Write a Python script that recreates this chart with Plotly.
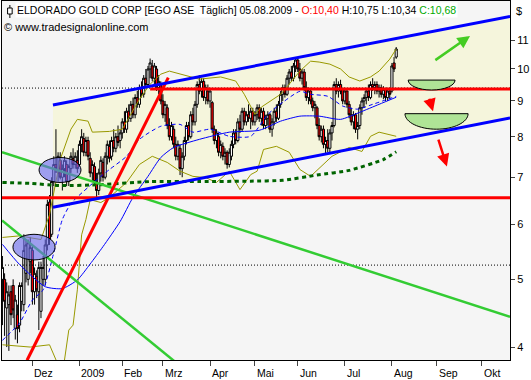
import math
import plotly.graph_objects as go

# ---------------- data (trading-day index: 0 = 1 Dec 2008) ----------------
day_index = list(range(-14, 171))

opens = [
    5.0, 5.0, 4.55, 4.6, 4.8, 4.9, 4.25, 4.45, 4.3, 4.65, 4.6, 5.1, 5.0, 5.3,  # Nov
    5.5, 4.8, 5.05, 4.8, 4.5, 5.0, 5.0, 5.6, 6.45, 5.8, 6.9, 7.3, 7.1, 7.4, 7.0, 7.2, 7.3, 6.9, 7.2, 7.45, 7.3, 7.4,  # Dec
    7.3, 7.8, 7.95, 7.6, 7.9, 7.45, 7.1, 7.25, 6.9, 6.7, 7.1, 7.35, 7.0, 7.5, 7.75, 7.5, 7.9, 7.7, 8.0, 7.9,  # Jan
    8.1, 8.4, 8.2, 8.7, 8.5, 8.9, 8.6, 9.1, 8.9, 9.4, 9.2, 9.7, 9.5, 10.0, 10.1, 9.7, 10.0, 9.4, 9.5,  # Feb
    9.0, 8.6, 8.8, 8.3, 8.0, 8.2, 7.8, 7.5, 7.7, 7.2, 7.5, 7.9, 8.3, 8.0, 8.6, 8.4, 8.9, 9.5, 9.3, 9.6, 9.1, 9.3,  # Mar
    9.0, 8.95, 8.2, 7.9, 8.0, 7.6, 7.75, 7.5, 7.6, 7.3, 7.5, 7.8, 8.1, 7.9, 8.4, 8.2, 8.7, 8.4, 8.6, 8.5, 8.7,  # Apr
    8.4, 8.6, 8.8, 8.5, 8.7, 8.3, 8.5, 8.6, 8.2, 8.4, 8.7, 8.5, 8.9, 9.2, 9.4, 9.2, 9.7, 9.9, 9.7, 10.1,  # May
    10.3, 10.0, 9.7, 9.9, 9.4, 9.1, 9.3, 9.0, 8.8, 8.8, 8.3, 8.0, 8.2, 7.8, 7.9, 7.7, 8.1, 8.3, 9.5, 9.3, 9.5, 9.35,  # Jun
    9.0, 9.3, 8.9, 8.6, 8.4, 8.6, 8.2, 8.3, 8.8, 9.0, 9.1, 9.3, 9.1, 9.5, 9.4, 9.5, 9.3, 9.4, 9.2, 9.35, 9.1, 9.3,  # Jul
    9.3, 10.2, 10.40,  # Aug
]
highs = [
    5.4, 5.1, 4.95, 4.9, 4.9, 5.0, 4.75, 4.6, 4.95, 4.95, 5.8, 5.7, 5.7, 5.75,
    5.6, 5.2, 5.15, 5.3, 5.3, 5.4, 5.7, 6.5, 6.6, 7.0, 7.5, 8.2, 7.6, 7.6, 7.3, 7.5, 7.4, 7.3, 7.6, 7.7, 7.6, 7.65,
    7.9, 8.2, 8.1, 8.0, 8.0, 7.6, 7.4, 7.35, 7.1, 7.2, 7.5, 7.45, 7.6, 7.9, 7.9, 8.0, 8.2, 8.1, 8.3, 8.2,
    8.5, 8.7, 8.8, 8.9, 9.0, 9.1, 9.2, 9.3, 9.5, 9.6, 9.8, 10.0, 10.1, 10.35, 10.3, 10.2, 10.1, 9.8, 9.6,
    9.2, 9.0, 8.9, 8.5, 8.4, 8.3, 8.0, 7.9, 7.8, 7.6, 8.0, 8.4, 8.4, 8.7, 8.8, 9.0, 9.6, 9.8, 9.7, 9.7, 9.5, 9.5,
    9.4, 9.0, 8.3, 8.2, 8.1, 7.9, 7.85, 7.7, 7.65, 7.7, 7.9, 8.2, 8.2, 8.5, 8.6, 8.8, 8.8, 8.7, 8.9, 8.8, 8.8,
    8.7, 8.9, 8.9, 8.8, 8.8, 8.6, 8.7, 8.65, 8.5, 8.8, 8.9, 9.0, 9.3, 9.5, 9.5, 9.8, 10.0, 10.1, 10.2, 10.36,
    10.4, 10.2, 10.0, 10.0, 9.6, 9.4, 9.4, 9.1, 9.0, 8.85, 8.5, 8.3, 8.3, 8.0, 8.2, 8.2, 8.4, 9.6, 9.7, 9.6, 9.65, 9.4,
    9.4, 9.35, 9.0, 8.8, 8.7, 8.65, 8.4, 8.9, 9.1, 9.2, 9.4, 9.5, 9.6, 9.7, 9.6, 9.6, 9.5, 9.5, 9.45, 9.4, 9.4, 9.4,
    10.2, 10.4, 10.75,
]
lows = [
    4.3, 4.15, 4.0, 3.95, 4.3, 4.4, 4.1, 4.05, 4.2, 4.5, 4.5, 4.95, 4.9, 5.1,
    4.6, 4.6, 4.7, 4.23, 4.4, 4.9, 4.9, 5.5, 5.6, 5.75, 6.8, 7.1, 6.9, 6.95, 6.7, 7.0, 6.8, 6.8, 7.1, 7.2, 7.2, 7.1,
    7.25, 7.6, 7.5, 7.5, 7.4, 7.0, 6.9, 6.8, 6.55, 6.6, 6.9, 6.9, 6.95, 7.3, 7.35, 7.4, 7.6, 7.6, 7.75, 7.7,
    7.95, 8.1, 8.1, 8.4, 8.4, 8.5, 8.5, 8.8, 8.8, 9.1, 9.1, 9.4, 9.4, 9.7, 9.6, 9.5, 9.3, 9.2, 8.9,
    8.5, 8.4, 8.2, 7.9, 7.9, 7.7, 7.4, 7.4, 7.05, 7.0, 7.4, 7.8, 7.9, 7.95, 8.3, 8.3, 8.8, 9.2, 9.1, 9.0, 8.9, 8.9,
    8.8, 8.1, 7.8, 7.7, 7.5, 7.45, 7.4, 7.3, 7.2, 7.23, 7.4, 7.7, 7.8, 7.85, 8.1, 8.15, 8.3, 8.3, 8.4, 8.2, 8.3,
    8.3, 8.45, 8.4, 8.3, 8.2, 8.2, 8.3, 8.1, 8.0, 8.3, 8.4, 8.45, 8.8, 9.0, 9.1, 9.15, 9.5, 9.6, 9.6, 9.9,
    9.9, 9.6, 9.5, 9.3, 9.0, 8.9, 8.9, 8.7, 8.5, 8.2, 7.9, 7.85, 7.7, 7.55, 7.6, 7.6, 7.9, 8.25, 9.2, 9.1, 9.2, 8.9,
    8.9, 8.8, 8.5, 8.3, 8.2, 8.1, 7.93, 8.2, 8.6, 8.8, 8.9, 9.0, 9.05, 9.3, 9.2, 9.2, 9.1, 9.1, 9.05, 9.0, 9.0, 9.05,
    9.25, 9.9, 10.34,
]
closes = [
    5.2, 4.65, 4.8, 4.75, 4.45, 4.52, 4.67, 4.25, 4.9, 4.9, 5.5, 5.6, 5.64, 5.55,
    4.8, 5.1, 4.83, 5.2, 5.2, 5.2, 5.6, 6.4, 5.7, 6.9, 7.3, 7.2, 7.5, 7.0, 7.2, 7.4, 6.9, 7.25, 7.5, 7.3, 7.5, 7.2,
    7.8, 8.0, 7.6, 7.9, 7.5, 7.1, 7.3, 6.9, 6.7, 7.1, 7.4, 7.0, 7.5, 7.8, 7.45, 7.9, 7.7, 8.0, 7.85, 8.1,
    8.4, 8.2, 8.7, 8.5, 8.9, 8.6, 9.1, 8.9, 9.4, 9.2, 9.7, 9.5, 10.0, 10.2, 9.7, 10.1, 9.4, 9.6, 9.0,
    8.6, 8.9, 8.3, 8.0, 8.3, 7.8, 7.5, 7.8, 7.2, 7.5, 7.9, 8.3, 8.0, 8.6, 8.4, 8.9, 9.5, 9.3, 9.6, 9.1, 9.4, 9.0,
    9.3, 8.2, 7.9, 8.1, 7.6, 7.8, 7.5, 7.6, 7.3, 7.6, 7.8, 8.1, 7.9, 8.4, 8.2, 8.7, 8.4, 8.6, 8.5, 8.7, 8.4,
    8.6, 8.8, 8.5, 8.7, 8.3, 8.5, 8.6, 8.2, 8.4, 8.7, 8.5, 8.9, 9.2, 9.4, 9.2, 9.7, 9.9, 9.7, 10.1, 10.3,
    10.0, 9.7, 9.9, 9.4, 9.1, 9.3, 9.0, 8.8, 8.9, 8.3, 8.0, 8.2, 7.8, 7.9, 7.7, 8.1, 8.3, 9.5, 9.3, 9.5, 9.3, 9.0,
    9.3, 8.9, 8.6, 8.4, 8.6, 8.2, 8.3, 8.8, 9.0, 9.1, 9.3, 9.1, 9.5, 9.4, 9.5, 9.3, 9.4, 9.2, 9.35, 9.1, 9.3, 9.2,
    10.1, 10.0, 10.68,
]

# indicator lines (index, price)
sma200_idx = [-14, -1, 13, 32, 55, 78, 102, 117, 133, 148, 164, 170]
sma200_val = [6.88, 6.86, 6.81, 6.83, 6.90, 6.90, 6.91, 6.93, 7.05, 7.16, 7.42, 7.61]
sma50_idx = [-14, -6, 6, 14, 21, 27, 33, 41, 47, 54, 60, 66, 78, 92, 106, 116, 125, 134, 144, 153, 162, 170]
sma50_val = [5.61, 5.25, 4.88, 4.85, 4.99, 5.26, 5.57, 6.05, 6.55, 7.02, 7.47, 7.72, 7.93, 8.12, 8.17, 8.42,
             8.56, 8.56, 8.47, 8.67, 8.90, 9.11]
sma20_idx = [-14, -6, 0, 5, 10, 14, 18, 26, 32, 36, 44, 50, 60, 69, 75, 83, 92, 102, 110, 117, 125, 130, 138,
             145, 152, 159, 166, 170]
sma20_val = [4.09, 4.33, 4.67, 4.83, 5.46, 6.09, 6.42, 6.77, 7.02, 7.18, 7.50, 7.93, 8.28, 8.33, 8.12, 8.20,
             8.01, 8.01, 8.61, 8.96, 9.29, 9.20, 9.14, 8.85, 8.76, 8.90, 9.05, 9.14]
bb_up_idx = [-14, -6, 4, 8, 13, 18, 21, 26, 28, 36, 42, 46, 50, 55, 60, 64, 69, 78, 88, 95, 99, 104, 107, 116,
             120, 125, 130, 134, 139, 144, 148, 153, 158, 162, 167, 170]
bb_up_val = [5.74, 5.77, 5.70, 6.19, 7.42, 8.20, 8.47, 8.42, 8.12, 8.14, 8.20, 8.61, 9.05, 9.51, 9.83, 9.93,
             9.83, 9.67, 9.74, 9.61, 9.20, 8.61, 8.82, 9.20, 9.51, 9.93, 10.26, 10.23, 10.16, 10.00, 9.74,
             9.61, 9.74, 9.93, 10.33, 10.68]
bb_lo_idx = [-14, -1, 8, 11, 14, 17, 19, 21, 23, 25, 27, 32, 36, 44, 50, 56, 63, 69, 75, 81, 86, 92, 97, 102,
             105, 108, 114, 120, 125, 130, 136, 140, 148, 154, 158, 162, 170]
bb_lo_val = [4.03, 4.00, 4.03, 3.83, 3.65, 4.23, 4.30, 4.83, 5.79, 6.09, 6.50, 6.44, 6.55, 6.88, 7.30, 7.50,
             7.35, 7.14, 7.02, 6.99, 6.88, 7.14, 6.72, 7.06, 7.14, 7.67, 7.75, 7.60, 7.18, 7.02, 7.30, 7.50,
             7.72, 7.62, 8.01, 8.12, 8.01]

# analyst drawings (index, price)
channel_idx = [9.6, 223.2]
channel_upper = [8.88, 11.89]
channel_lower = [6.34, 8.51]
support_level = 6.54
resistance_level = 9.36
resistance_start = 55
red_trend_idx = [-2.5, 63.5]
red_trend_val = [3.83, 9.72]
green_upper_idx = [-14.2, 223.2]
green_upper_val = [7.60, 4.42]
green_lower_idx = [-14.2, 69.0]
green_lower_val = [6.07, 3.76]
dotted_levels = [9.39, 5.24]
ellipse_a = dict(idx=(3.1, 22.7), price=(6.88, 7.47))
ellipse_b = dict(idx=(-9.1, 10.6), price=(5.33, 5.80))
bowls = [dict(idx=(175.6, 197.5), top=9.64, bottom=9.33),
         dict(idx=(174.1, 203.6), top=8.63, bottom=8.20)]
arrows = [dict(start=(187.6, 10.26), end=(204.5, 11.15), color="#44cc22"),
          dict(start=(185.3, 9.11), end=(187.2, 8.70), color="#ff0000"),
          dict(start=(189.5, 7.96), end=(193.7, 7.25), color="#ff0000")]

month_idx = [0, 22, 42, 61, 83, 104, 124, 146, 168, 189, 210]
month_labels = ["Dez", "2009", "Feb", "Mrz", "Apr", "Mai", "Jun", "Jul", "Aug", "Sep", "Okt"]
price_ticks = [4, 5, 6, 7, 8, 9, 10, 11]

X_RANGE = [-14.21, 223.18]
Y_RANGE = [math.log10(3.833), math.log10(12.51)]
FONT = "Liberation Sans, Arial, sans-serif"

fig = go.Figure()

# horizontal dotted levels
for lv in dotted_levels:
    fig.add_trace(go.Scatter(x=X_RANGE, y=[lv, lv], mode="lines",
                             line=dict(color="black", width=1, dash="1px,2px"), hoverinfo="skip"))

# indicators
fig.add_trace(go.Scatter(x=bb_up_idx, y=bb_up_val, mode="lines", line=dict(color="#999900", width=1)))
fig.add_trace(go.Scatter(x=bb_lo_idx, y=bb_lo_val, mode="lines", line=dict(color="#999900", width=1)))
fig.add_trace(go.Scatter(x=sma50_idx, y=sma50_val, mode="lines",
                         line=dict(color="#0000ff", width=1, shape="spline", smoothing=0.6)))
fig.add_trace(go.Scatter(x=sma20_idx, y=sma20_val, mode="lines",
                         line=dict(color="#0000ff", width=1, dash="4px,3px", shape="spline", smoothing=0.6)))
fig.add_trace(go.Scatter(x=sma200_idx, y=sma200_val, mode="lines",
                         line=dict(color="#006400", width=3, dash="4px,3.5px", shape="spline", smoothing=0.6)))

# candles
fig.add_trace(go.Candlestick(
    x=day_index, open=opens, high=highs, low=lows, close=closes,
    increasing=dict(fillcolor="white", line=dict(color="black", width=1)),
    decreasing=dict(fillcolor="#ff0000", line=dict(color="black", width=1)),
    whiskerwidth=0))

# trend lines
fig.add_trace(go.Scatter(x=green_upper_idx, y=green_upper_val, mode="lines", line=dict(color="#33cc33", width=2.5)))
fig.add_trace(go.Scatter(x=green_lower_idx, y=green_lower_val, mode="lines", line=dict(color="#33cc33", width=2.5)))
fig.add_trace(go.Scatter(x=X_RANGE, y=[support_level, support_level], mode="lines",
                         line=dict(color="#ff0000", width=3)))
fig.add_trace(go.Scatter(x=[resistance_start, X_RANGE[1]], y=[resistance_level, resistance_level], mode="lines",
                         line=dict(color="#ff0000", width=3)))
fig.add_trace(go.Scatter(x=red_trend_idx, y=red_trend_val, mode="lines", line=dict(color="#ff0000", width=3)))
fig.add_trace(go.Scatter(x=channel_idx, y=channel_upper, mode="lines", line=dict(color="#0000ff", width=3)))
fig.add_trace(go.Scatter(x=channel_idx, y=channel_lower, mode="lines", line=dict(color="#0000ff", width=3)))

shapes = []
# channel fill (below all traces)
shapes.append(dict(type="path", xref="x", yref="y", layer="below", fillcolor="rgb(245,245,220)",
                   line=dict(width=0),
                   path=(f"M {channel_idx[0]},{channel_upper[0]} L {channel_idx[1]},{channel_upper[1]} "
                         f"L {channel_idx[1]},{channel_lower[1]} L {channel_idx[0]},{channel_lower[0]} Z")))
for e in (ellipse_a, ellipse_b):
    shapes.append(dict(type="circle", xref="x", yref="y", x0=e["idx"][0], x1=e["idx"][1],
                       y0=e["price"][0], y1=e["price"][1], fillcolor="rgba(105,105,235,0.62)",
                       line=dict(color="black", width=1), layer="above"))
K = 0.5523
for b in bowls:
    x0, x1 = b["idx"]
    cx, rx = (x0 + x1) / 2, (x1 - x0) / 2
    lt, lb = math.log10(b["top"]), math.log10(b["bottom"])
    ym = 10 ** (lt - K * (lt - lb))
    path = (f"M {x0},{b['top']} C {x0},{ym} {cx - K * rx},{b['bottom']} {cx},{b['bottom']} "
            f"C {cx + K * rx},{b['bottom']} {x1},{ym} {x1},{b['top']} Z")
    shapes.append(dict(type="path", xref="x", yref="y", path=path, fillcolor="rgb(175,228,150)",
                       line=dict(color="black", width=1), layer="above"))
# candle glyph in the header
shapes.append(dict(type="line", xref="paper", yref="paper", x0=0.0155, x1=0.0155, y0=1 - 4 / 359, y1=1 - 17 / 359,
                   line=dict(color="black", width=1)))
shapes.append(dict(type="rect", xref="paper", yref="paper", x0=0.011, x1=0.020, y0=1 - 7 / 359, y1=1 - 13 / 359,
                   fillcolor="white", line=dict(color="black", width=1)))

annotations = []
for a in arrows:
    annotations.append(dict(x=a["end"][0], y=math.log10(a["end"][1]), ax=a["start"][0], ay=math.log10(a["start"][1]),
                            xref="x", yref="y", axref="x", ayref="y", text="", showarrow=True,
                            arrowhead=2, arrowsize=1, arrowwidth=2.5, arrowcolor=a["color"]))


def fmt(v):
    return f"{v:.2f}".replace(".", ",")


header = ("ELDORADO GOLD CORP [EGO ASE\u00a0 Täglich] 05.08.2009 - "
          f"<span style='color:#ff0000'>O:{fmt(opens[-1])}</span> H:{fmt(highs[-1])} L:{fmt(lows[-1])} "
          f"<span style='color:#00aa00'>C:{fmt(closes[-1])}</span>")
annotations.append(dict(xref="paper", yref="paper", x=0, y=1, xanchor="left", yanchor="top", xshift=13, yshift=-1,
                        text=header, showarrow=False, bgcolor="white", borderpad=1,
                        font=dict(family=FONT, size=10.5, color="black")))
annotations.append(dict(xref="paper", yref="paper", x=0, y=1, xanchor="left", yanchor="top", xshift=0, yshift=-18,
                        text="© www.tradesignalonline.com", showarrow=False,
                        font=dict(family=FONT, size=11, color="black")))
annotations.append(dict(xref="paper", yref="paper", x=1, y=1, xanchor="left", yanchor="top", xshift=4, yshift=-2,
                        text="$", showarrow=False, font=dict(family=FONT, size=11, color="black")))
for mi, ml in zip(month_idx, month_labels):
    annotations.append(dict(xref="x", yref="paper", x=mi, y=0, xanchor="left", yanchor="top", yshift=-5,
                            text=ml, showarrow=False, font=dict(family=FONT, size=10.5, color="black")))

fig.update_layout(
    width=531, height=380, margin=dict(l=2, r=21, t=1, b=20),
    paper_bgcolor="white", plot_bgcolor="#f5f5f5", showlegend=False,
    boxgap=0, boxgroupgap=0, shapes=shapes, annotations=annotations,
    font=dict(family=FONT, size=11, color="black"),
    xaxis=dict(range=X_RANGE, showgrid=False, zeroline=False, showline=True, mirror=True, linecolor="black",
               linewidth=1, tickvals=month_idx, ticks="outside", ticklen=5, tickcolor="#444",
               showticklabels=False, rangeslider=dict(visible=False), fixedrange=True, automargin=False),
    yaxis=dict(type="log", range=Y_RANGE, side="right", showgrid=False, zeroline=False, showline=True,
               mirror=True, linecolor="black", linewidth=1, tickvals=price_ticks,
               ticktext=[str(t) for t in price_ticks], ticks="outside", ticklen=4, tickcolor="#444",
               tickfont=dict(family=FONT, size=11), automargin=False, fixedrange=True),
)

fig.write_html("out.html", config={"displayModeBar": False, "staticPlot": True},
               post_script="document.body.style.margin='0';document.body.style.padding='0';")
